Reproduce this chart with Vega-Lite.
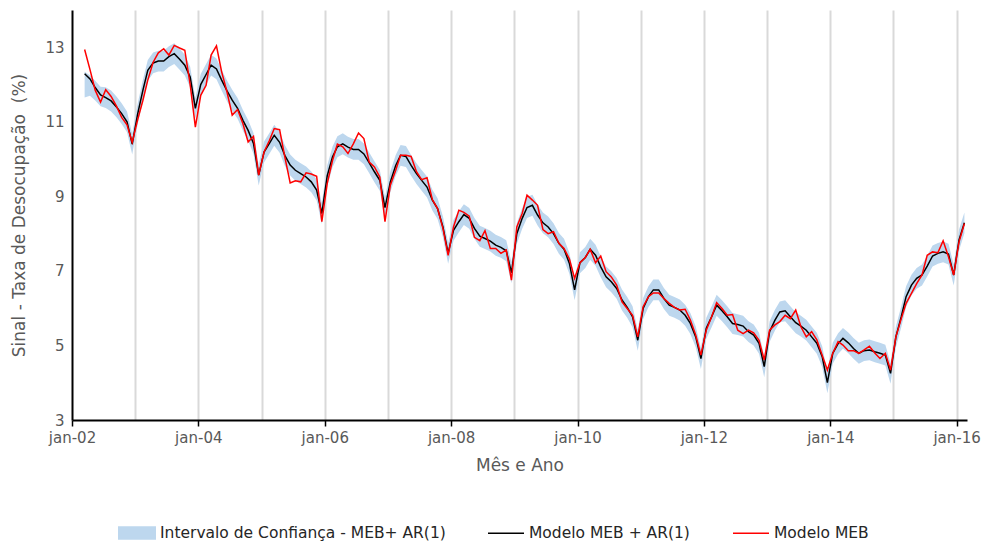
{
  "$schema": "https://vega.github.io/schema/vega-lite/v6.json",
  "width": 895,
  "height": 410,
  "autosize": {"type": "none"},
  "padding": {"left": 72, "top": 10, "right": 21, "bottom": 124},
  "background": "white",
  "config": {
    "view": {"stroke": null},
    "font": "DejaVu Sans",
    "axis": {"labelFont": "DejaVu Sans", "titleFont": "DejaVu Sans", "labelColor": "#595959", "titleColor": "#595959", "titleFontWeight": "normal"},
    "legend": {"labelFont": "DejaVu Sans", "labelFontSize": 15.5, "labelColor": "#262626", "labelLimit": 400, "padding": 0}
  },
  "data": {
    "values": [
      {"mes": "2002-03-15", "ar": 12.29, "meb": 12.94, "lo": 11.65, "hi": 12.34},
      {"mes": "2002-04-15", "ar": 12.15, "meb": 12.40, "lo": 11.70, "hi": 12.25},
      {"mes": "2002-05-15", "ar": 11.92, "meb": 11.85, "lo": 11.57, "hi": 12.10},
      {"mes": "2002-06-15", "ar": 11.72, "meb": 11.53, "lo": 11.42, "hi": 11.94},
      {"mes": "2002-07-15", "ar": 11.65, "meb": 11.86, "lo": 11.37, "hi": 11.93},
      {"mes": "2002-08-15", "ar": 11.56, "meb": 11.68, "lo": 11.28, "hi": 11.84},
      {"mes": "2002-09-15", "ar": 11.40, "meb": 11.42, "lo": 11.12, "hi": 11.68},
      {"mes": "2002-10-15", "ar": 11.22, "meb": 11.12, "lo": 10.94, "hi": 11.50},
      {"mes": "2002-11-15", "ar": 11.00, "meb": 10.92, "lo": 10.72, "hi": 11.28},
      {"mes": "2002-12-15", "ar": 10.40, "meb": 10.45, "lo": 10.12, "hi": 10.68},
      {"mes": "2003-01-15", "ar": 11.20, "meb": 11.05, "lo": 10.92, "hi": 11.48},
      {"mes": "2003-02-15", "ar": 11.85, "meb": 11.58, "lo": 11.57, "hi": 12.13},
      {"mes": "2003-03-15", "ar": 12.38, "meb": 12.12, "lo": 12.10, "hi": 12.66},
      {"mes": "2003-04-15", "ar": 12.58, "meb": 12.60, "lo": 12.30, "hi": 12.86},
      {"mes": "2003-05-15", "ar": 12.63, "meb": 12.85, "lo": 12.35, "hi": 12.91},
      {"mes": "2003-06-15", "ar": 12.63, "meb": 12.96, "lo": 12.35, "hi": 12.91},
      {"mes": "2003-07-15", "ar": 12.75, "meb": 12.79, "lo": 12.47, "hi": 13.03},
      {"mes": "2003-08-15", "ar": 12.83, "meb": 13.05, "lo": 12.55, "hi": 13.11},
      {"mes": "2003-09-15", "ar": 12.68, "meb": 12.98, "lo": 12.40, "hi": 12.96},
      {"mes": "2003-10-15", "ar": 12.52, "meb": 12.92, "lo": 12.24, "hi": 12.80},
      {"mes": "2003-11-15", "ar": 12.20, "meb": 12.00, "lo": 11.92, "hi": 12.48},
      {"mes": "2003-12-15", "ar": 11.36, "meb": 10.86, "lo": 11.08, "hi": 11.64},
      {"mes": "2004-01-15", "ar": 12.00, "meb": 11.71, "lo": 11.72, "hi": 12.28},
      {"mes": "2004-02-15", "ar": 12.27, "meb": 11.98, "lo": 11.99, "hi": 12.55},
      {"mes": "2004-03-15", "ar": 12.52, "meb": 12.79, "lo": 12.24, "hi": 12.80},
      {"mes": "2004-04-15", "ar": 12.42, "meb": 13.04, "lo": 12.14, "hi": 12.70},
      {"mes": "2004-05-15", "ar": 12.12, "meb": 12.34, "lo": 11.84, "hi": 12.40},
      {"mes": "2004-06-15", "ar": 11.83, "meb": 11.80, "lo": 11.55, "hi": 12.11},
      {"mes": "2004-07-15", "ar": 11.58, "meb": 11.18, "lo": 11.30, "hi": 11.86},
      {"mes": "2004-08-15", "ar": 11.36, "meb": 11.33, "lo": 11.08, "hi": 11.64},
      {"mes": "2004-09-15", "ar": 11.04, "meb": 10.95, "lo": 10.76, "hi": 11.32},
      {"mes": "2004-10-15", "ar": 10.77, "meb": 10.46, "lo": 10.49, "hi": 11.05},
      {"mes": "2004-11-15", "ar": 10.42, "meb": 10.61, "lo": 10.14, "hi": 10.70},
      {"mes": "2004-12-15", "ar": 9.57, "meb": 9.57, "lo": 9.29, "hi": 9.85},
      {"mes": "2005-01-15", "ar": 10.19, "meb": 10.19, "lo": 9.91, "hi": 10.47},
      {"mes": "2005-02-15", "ar": 10.42, "meb": 10.50, "lo": 10.14, "hi": 10.70},
      {"mes": "2005-03-15", "ar": 10.64, "meb": 10.82, "lo": 10.36, "hi": 10.92},
      {"mes": "2005-04-15", "ar": 10.45, "meb": 10.79, "lo": 10.17, "hi": 10.73},
      {"mes": "2005-05-15", "ar": 10.10, "meb": 10.06, "lo": 9.82, "hi": 10.38},
      {"mes": "2005-06-15", "ar": 9.84, "meb": 9.36, "lo": 9.56, "hi": 10.12},
      {"mes": "2005-07-15", "ar": 9.70, "meb": 9.42, "lo": 9.42, "hi": 9.98},
      {"mes": "2005-08-15", "ar": 9.61, "meb": 9.39, "lo": 9.33, "hi": 9.89},
      {"mes": "2005-09-15", "ar": 9.52, "meb": 9.63, "lo": 9.24, "hi": 9.80},
      {"mes": "2005-10-15", "ar": 9.39, "meb": 9.60, "lo": 9.11, "hi": 9.67},
      {"mes": "2005-11-15", "ar": 9.17, "meb": 9.54, "lo": 8.89, "hi": 9.45},
      {"mes": "2005-12-15", "ar": 8.54, "meb": 8.32, "lo": 8.26, "hi": 8.82},
      {"mes": "2006-01-15", "ar": 9.55, "meb": 9.34, "lo": 9.27, "hi": 9.83},
      {"mes": "2006-02-15", "ar": 10.06, "meb": 9.97, "lo": 9.78, "hi": 10.34},
      {"mes": "2006-03-15", "ar": 10.33, "meb": 10.40, "lo": 10.05, "hi": 10.61},
      {"mes": "2006-04-15", "ar": 10.41, "meb": 10.33, "lo": 10.13, "hi": 10.69},
      {"mes": "2006-05-15", "ar": 10.32, "meb": 10.15, "lo": 10.04, "hi": 10.60},
      {"mes": "2006-06-15", "ar": 10.26, "meb": 10.41, "lo": 9.98, "hi": 10.54},
      {"mes": "2006-07-15", "ar": 10.26, "meb": 10.70, "lo": 9.98, "hi": 10.54},
      {"mes": "2006-08-15", "ar": 10.14, "meb": 10.55, "lo": 9.86, "hi": 10.42},
      {"mes": "2006-09-15", "ar": 9.90, "meb": 9.92, "lo": 9.62, "hi": 10.18},
      {"mes": "2006-10-15", "ar": 9.66, "meb": 9.79, "lo": 9.38, "hi": 9.94},
      {"mes": "2006-11-15", "ar": 9.43, "meb": 9.52, "lo": 9.15, "hi": 9.71},
      {"mes": "2006-12-15", "ar": 8.70, "meb": 8.32, "lo": 8.42, "hi": 8.98},
      {"mes": "2007-01-15", "ar": 9.39, "meb": 9.30, "lo": 9.11, "hi": 9.67},
      {"mes": "2007-02-15", "ar": 9.83, "meb": 9.70, "lo": 9.55, "hi": 10.11},
      {"mes": "2007-03-15", "ar": 10.10, "meb": 10.10, "lo": 9.82, "hi": 10.38},
      {"mes": "2007-04-15", "ar": 10.07, "meb": 10.10, "lo": 9.79, "hi": 10.35},
      {"mes": "2007-05-15", "ar": 9.83, "meb": 10.07, "lo": 9.55, "hi": 10.11},
      {"mes": "2007-06-15", "ar": 9.61, "meb": 9.66, "lo": 9.33, "hi": 9.89},
      {"mes": "2007-07-15", "ar": 9.43, "meb": 9.45, "lo": 9.15, "hi": 9.71},
      {"mes": "2007-08-15", "ar": 9.25, "meb": 9.50, "lo": 8.97, "hi": 9.53},
      {"mes": "2007-09-15", "ar": 8.90, "meb": 8.91, "lo": 8.62, "hi": 9.18},
      {"mes": "2007-10-15", "ar": 8.67, "meb": 8.67, "lo": 8.39, "hi": 8.95},
      {"mes": "2007-11-15", "ar": 8.18, "meb": 8.14, "lo": 7.90, "hi": 8.46},
      {"mes": "2007-12-15", "ar": 7.47, "meb": 7.42, "lo": 7.19, "hi": 7.75},
      {"mes": "2008-01-15", "ar": 8.09, "meb": 8.18, "lo": 7.81, "hi": 8.37},
      {"mes": "2008-02-15", "ar": 8.32, "meb": 8.63, "lo": 8.04, "hi": 8.60},
      {"mes": "2008-03-15", "ar": 8.51, "meb": 8.57, "lo": 8.23, "hi": 8.79},
      {"mes": "2008-04-15", "ar": 8.41, "meb": 8.47, "lo": 8.13, "hi": 8.69},
      {"mes": "2008-05-15", "ar": 8.14, "meb": 7.90, "lo": 7.86, "hi": 8.42},
      {"mes": "2008-06-15", "ar": 7.93, "meb": 7.81, "lo": 7.65, "hi": 8.21},
      {"mes": "2008-07-15", "ar": 7.87, "meb": 8.08, "lo": 7.59, "hi": 8.15},
      {"mes": "2008-08-15", "ar": 7.80, "meb": 7.60, "lo": 7.52, "hi": 8.08},
      {"mes": "2008-09-15", "ar": 7.69, "meb": 7.60, "lo": 7.41, "hi": 7.97},
      {"mes": "2008-10-15", "ar": 7.63, "meb": 7.47, "lo": 7.35, "hi": 7.91},
      {"mes": "2008-11-15", "ar": 7.54, "meb": 7.56, "lo": 7.26, "hi": 7.82},
      {"mes": "2008-12-15", "ar": 6.95, "meb": 6.75, "lo": 6.67, "hi": 7.23},
      {"mes": "2009-01-15", "ar": 8.00, "meb": 8.18, "lo": 7.72, "hi": 8.28},
      {"mes": "2009-02-15", "ar": 8.41, "meb": 8.54, "lo": 8.13, "hi": 8.69},
      {"mes": "2009-03-15", "ar": 8.70, "meb": 9.03, "lo": 8.42, "hi": 8.98},
      {"mes": "2009-04-15", "ar": 8.76, "meb": 8.90, "lo": 8.48, "hi": 9.04},
      {"mes": "2009-05-15", "ar": 8.50, "meb": 8.76, "lo": 8.22, "hi": 8.78},
      {"mes": "2009-06-15", "ar": 8.29, "meb": 8.11, "lo": 8.01, "hi": 8.57},
      {"mes": "2009-07-15", "ar": 8.18, "meb": 8.00, "lo": 7.90, "hi": 8.46},
      {"mes": "2009-08-15", "ar": 8.00, "meb": 8.05, "lo": 7.72, "hi": 8.28},
      {"mes": "2009-09-15", "ar": 7.74, "meb": 7.74, "lo": 7.46, "hi": 8.02},
      {"mes": "2009-10-15", "ar": 7.58, "meb": 7.60, "lo": 7.30, "hi": 7.86},
      {"mes": "2009-11-15", "ar": 7.20, "meb": 7.32, "lo": 6.92, "hi": 7.48},
      {"mes": "2009-12-15", "ar": 6.49, "meb": 6.80, "lo": 6.21, "hi": 6.77},
      {"mes": "2010-01-15", "ar": 7.22, "meb": 7.22, "lo": 6.94, "hi": 7.50},
      {"mes": "2010-02-15", "ar": 7.36, "meb": 7.36, "lo": 7.08, "hi": 7.64},
      {"mes": "2010-03-15", "ar": 7.58, "meb": 7.58, "lo": 7.30, "hi": 7.86},
      {"mes": "2010-04-15", "ar": 7.42, "meb": 7.22, "lo": 7.14, "hi": 7.70},
      {"mes": "2010-05-15", "ar": 7.11, "meb": 7.40, "lo": 6.83, "hi": 7.39},
      {"mes": "2010-06-15", "ar": 6.84, "meb": 6.98, "lo": 6.56, "hi": 7.12},
      {"mes": "2010-07-15", "ar": 6.71, "meb": 6.84, "lo": 6.43, "hi": 6.99},
      {"mes": "2010-08-15", "ar": 6.53, "meb": 6.62, "lo": 6.25, "hi": 6.81},
      {"mes": "2010-09-15", "ar": 6.22, "meb": 6.17, "lo": 5.94, "hi": 6.50},
      {"mes": "2010-10-15", "ar": 6.02, "meb": 5.99, "lo": 5.74, "hi": 6.30},
      {"mes": "2010-11-15", "ar": 5.77, "meb": 5.81, "lo": 5.49, "hi": 6.05},
      {"mes": "2010-12-15", "ar": 5.14, "meb": 5.23, "lo": 4.86, "hi": 5.42},
      {"mes": "2011-01-15", "ar": 5.99, "meb": 6.04, "lo": 5.71, "hi": 6.27},
      {"mes": "2011-02-15", "ar": 6.31, "meb": 6.31, "lo": 6.03, "hi": 6.59},
      {"mes": "2011-03-15", "ar": 6.49, "meb": 6.41, "lo": 6.21, "hi": 6.77},
      {"mes": "2011-04-15", "ar": 6.49, "meb": 6.41, "lo": 6.21, "hi": 6.77},
      {"mes": "2011-05-15", "ar": 6.26, "meb": 6.26, "lo": 5.98, "hi": 6.54},
      {"mes": "2011-06-15", "ar": 6.08, "meb": 6.13, "lo": 5.80, "hi": 6.36},
      {"mes": "2011-07-15", "ar": 6.02, "meb": 6.02, "lo": 5.74, "hi": 6.30},
      {"mes": "2011-08-15", "ar": 5.95, "meb": 5.95, "lo": 5.67, "hi": 6.23},
      {"mes": "2011-09-15", "ar": 5.81, "meb": 5.97, "lo": 5.53, "hi": 6.09},
      {"mes": "2011-10-15", "ar": 5.59, "meb": 5.68, "lo": 5.31, "hi": 5.87},
      {"mes": "2011-11-15", "ar": 5.23, "meb": 5.28, "lo": 4.95, "hi": 5.51},
      {"mes": "2011-12-15", "ar": 4.65, "meb": 4.74, "lo": 4.37, "hi": 4.93},
      {"mes": "2012-01-15", "ar": 5.46, "meb": 5.41, "lo": 5.18, "hi": 5.74},
      {"mes": "2012-02-15", "ar": 5.77, "meb": 5.77, "lo": 5.49, "hi": 6.05},
      {"mes": "2012-03-15", "ar": 6.08, "meb": 6.15, "lo": 5.80, "hi": 6.36},
      {"mes": "2012-04-15", "ar": 5.93, "meb": 5.99, "lo": 5.65, "hi": 6.21},
      {"mes": "2012-05-15", "ar": 5.77, "meb": 5.81, "lo": 5.49, "hi": 6.05},
      {"mes": "2012-06-15", "ar": 5.59, "meb": 5.83, "lo": 5.31, "hi": 5.87},
      {"mes": "2012-07-15", "ar": 5.56, "meb": 5.41, "lo": 5.28, "hi": 5.84},
      {"mes": "2012-08-15", "ar": 5.52, "meb": 5.32, "lo": 5.24, "hi": 5.80},
      {"mes": "2012-09-15", "ar": 5.37, "meb": 5.41, "lo": 5.09, "hi": 5.65},
      {"mes": "2012-10-15", "ar": 5.28, "meb": 5.34, "lo": 5.00, "hi": 5.56},
      {"mes": "2012-11-15", "ar": 5.06, "meb": 5.14, "lo": 4.78, "hi": 5.34},
      {"mes": "2012-12-15", "ar": 4.43, "meb": 4.61, "lo": 4.15, "hi": 4.71},
      {"mes": "2013-01-15", "ar": 5.37, "meb": 5.41, "lo": 5.09, "hi": 5.65},
      {"mes": "2013-02-15", "ar": 5.68, "meb": 5.55, "lo": 5.40, "hi": 5.96},
      {"mes": "2013-03-15", "ar": 5.90, "meb": 5.64, "lo": 5.62, "hi": 6.18},
      {"mes": "2013-04-15", "ar": 5.93, "meb": 5.81, "lo": 5.65, "hi": 6.21},
      {"mes": "2013-05-15", "ar": 5.77, "meb": 5.72, "lo": 5.49, "hi": 6.05},
      {"mes": "2013-06-15", "ar": 5.61, "meb": 5.95, "lo": 5.33, "hi": 5.89},
      {"mes": "2013-07-15", "ar": 5.52, "meb": 5.50, "lo": 5.24, "hi": 5.80},
      {"mes": "2013-08-15", "ar": 5.41, "meb": 5.23, "lo": 5.13, "hi": 5.69},
      {"mes": "2013-09-15", "ar": 5.23, "meb": 5.37, "lo": 4.95, "hi": 5.51},
      {"mes": "2013-10-15", "ar": 5.06, "meb": 5.15, "lo": 4.78, "hi": 5.34},
      {"mes": "2013-11-15", "ar": 4.70, "meb": 4.74, "lo": 4.42, "hi": 4.98},
      {"mes": "2013-12-15", "ar": 4.00, "meb": 4.34, "lo": 3.72, "hi": 4.28},
      {"mes": "2014-01-15", "ar": 4.79, "meb": 4.79, "lo": 4.51, "hi": 5.07},
      {"mes": "2014-02-15", "ar": 5.05, "meb": 5.10, "lo": 4.77, "hi": 5.33},
      {"mes": "2014-03-15", "ar": 5.19, "meb": 5.01, "lo": 4.91, "hi": 5.47},
      {"mes": "2014-04-15", "ar": 5.07, "meb": 4.86, "lo": 4.79, "hi": 5.35},
      {"mes": "2014-05-15", "ar": 4.92, "meb": 4.86, "lo": 4.64, "hi": 5.20},
      {"mes": "2014-06-15", "ar": 4.79, "meb": 4.79, "lo": 4.51, "hi": 5.07},
      {"mes": "2014-07-15", "ar": 4.86, "meb": 4.88, "lo": 4.58, "hi": 5.14},
      {"mes": "2014-08-15", "ar": 4.88, "meb": 4.98, "lo": 4.60, "hi": 5.16},
      {"mes": "2014-09-15", "ar": 4.83, "meb": 4.80, "lo": 4.55, "hi": 5.11},
      {"mes": "2014-10-15", "ar": 4.79, "meb": 4.65, "lo": 4.51, "hi": 5.07},
      {"mes": "2014-11-15", "ar": 4.74, "meb": 4.79, "lo": 4.46, "hi": 5.02},
      {"mes": "2014-12-15", "ar": 4.25, "meb": 4.34, "lo": 3.97, "hi": 4.53},
      {"mes": "2015-01-15", "ar": 5.23, "meb": 5.23, "lo": 4.95, "hi": 5.51},
      {"mes": "2015-02-15", "ar": 5.77, "meb": 5.72, "lo": 5.49, "hi": 6.05},
      {"mes": "2015-03-15", "ar": 6.31, "meb": 6.13, "lo": 6.03, "hi": 6.59},
      {"mes": "2015-04-15", "ar": 6.62, "meb": 6.40, "lo": 6.34, "hi": 6.90},
      {"mes": "2015-05-15", "ar": 6.80, "meb": 6.66, "lo": 6.52, "hi": 7.08},
      {"mes": "2015-06-15", "ar": 6.89, "meb": 6.89, "lo": 6.61, "hi": 7.17},
      {"mes": "2015-07-15", "ar": 7.13, "meb": 7.42, "lo": 6.85, "hi": 7.41},
      {"mes": "2015-08-15", "ar": 7.40, "meb": 7.51, "lo": 7.12, "hi": 7.68},
      {"mes": "2015-09-15", "ar": 7.47, "meb": 7.49, "lo": 7.19, "hi": 7.75},
      {"mes": "2015-10-15", "ar": 7.51, "meb": 7.81, "lo": 7.23, "hi": 7.79},
      {"mes": "2015-11-15", "ar": 7.45, "meb": 7.38, "lo": 7.17, "hi": 7.73},
      {"mes": "2015-12-15", "ar": 6.89, "meb": 6.89, "lo": 6.61, "hi": 7.17},
      {"mes": "2016-01-15", "ar": 7.83, "meb": 7.78, "lo": 7.55, "hi": 8.11},
      {"mes": "2016-02-15", "ar": 8.29, "meb": 8.27, "lo": 8.01, "hi": 8.57}
    ]
  },
  "encoding": {
    "x": {
      "field": "mes",
      "type": "temporal",
      "title": "Mês e Ano",
      "scale": {
        "type": "utc",
        "domain": [
          {"year": 2002, "month": 1, "date": 1, "utc": true},
          {"year": 2016, "month": 3, "date": 1, "utc": true}
        ]
      },
      "axis": {
        "values": [
          {"year": 2002, "month": 1, "date": 1, "utc": true},
          {"year": 2003, "month": 1, "date": 1, "utc": true},
          {"year": 2004, "month": 1, "date": 1, "utc": true},
          {"year": 2005, "month": 1, "date": 1, "utc": true},
          {"year": 2006, "month": 1, "date": 1, "utc": true},
          {"year": 2007, "month": 1, "date": 1, "utc": true},
          {"year": 2008, "month": 1, "date": 1, "utc": true},
          {"year": 2009, "month": 1, "date": 1, "utc": true},
          {"year": 2010, "month": 1, "date": 1, "utc": true},
          {"year": 2011, "month": 1, "date": 1, "utc": true},
          {"year": 2012, "month": 1, "date": 1, "utc": true},
          {"year": 2013, "month": 1, "date": 1, "utc": true},
          {"year": 2014, "month": 1, "date": 1, "utc": true},
          {"year": 2015, "month": 1, "date": 1, "utc": true},
          {"year": 2016, "month": 1, "date": 1, "utc": true}
        ],
        "labelExpr": "utcyear(datum.value) % 2 == 0 ? 'jan-' + utcFormat(datum.value, '%y') : ''",
        "labelFontSize": 15,
        "labelPadding": 4,
        "labelFlush": false,
        "labelOverlap": false,
        "grid": true,
        "gridColor": {"condition": {"test": "utcyear(datum.value) == 2002", "value": "transparent"}, "value": "#d9d9d9"},
        "gridWidth": 2,
        "ticks": true,
        "tickSize": 6,
        "tickWidth": 1.5,
        "tickColor": {"condition": {"test": "utcyear(datum.value) % 2 == 1", "value": "transparent"}, "value": "#000000"},
        "domainColor": "#000000",
        "domainWidth": 2,
        "titleFontSize": 17,
        "titlePadding": 12
      }
    }
  },
  "layer": [
    {
      "mark": {"type": "area", "opacity": 1},
      "encoding": {
        "y": {
          "field": "lo",
          "type": "quantitative",
          "title": "Sinal - Taxa de Desocupação \u00a0(%)",
          "scale": {"domain": [3, 14], "nice": false, "zero": false},
          "axis": {
            "values": [3, 5, 7, 9, 11, 13],
            "grid": false,
            "ticks": false,
            "labelFontSize": 15,
            "labelPadding": 8,
            "domainColor": "#000000",
            "domainWidth": 2,
            "titleFontSize": 17,
            "titlePadding": 16
          }
        },
        "y2": {"field": "hi"},
        "fill": {
          "datum": "Intervalo de Confiança - MEB+ AR(1)",
          "type": "nominal",
          "scale": {"domain": ["Intervalo de Confiança - MEB+ AR(1)"], "range": ["#bdd7ee"]},
          "legend": {
            "orient": "none",
            "legendX": 46,
            "legendY": 504,
            "title": null,
            "symbolSize": 1444,
            "symbolType": "M-1,-0.36H1V0.36H-1Z",
            "symbolStrokeWidth": 0,
            "symbolOpacity": 1,
            "labelOffset": 4
          }
        }
      }
    },
    {
      "mark": {"type": "line", "strokeWidth": 1.5},
      "encoding": {
        "y": {"field": "ar", "type": "quantitative"},
        "stroke": {
          "datum": "Modelo MEB + AR(1)",
          "type": "nominal",
          "scale": {"domain": ["Modelo MEB + AR(1)", "Modelo MEB"], "range": ["#000000", "#ff0000"]},
          "legend": {
            "orient": "none",
            "legendX": 415,
            "legendY": 504,
            "direction": "horizontal",
            "title": null,
            "symbolSize": 1296,
            "symbolType": "M-1,0H1",
            "symbolStrokeWidth": 1.5,
            "symbolFillColor": "transparent",
            "labelOffset": 4,
            "columnPadding": 40
          }
        }
      }
    },
    {
      "mark": {"type": "line", "strokeWidth": 1.5},
      "encoding": {
        "y": {"field": "meb", "type": "quantitative"},
        "stroke": {"datum": "Modelo MEB", "type": "nominal"}
      }
    }
  ]
}
